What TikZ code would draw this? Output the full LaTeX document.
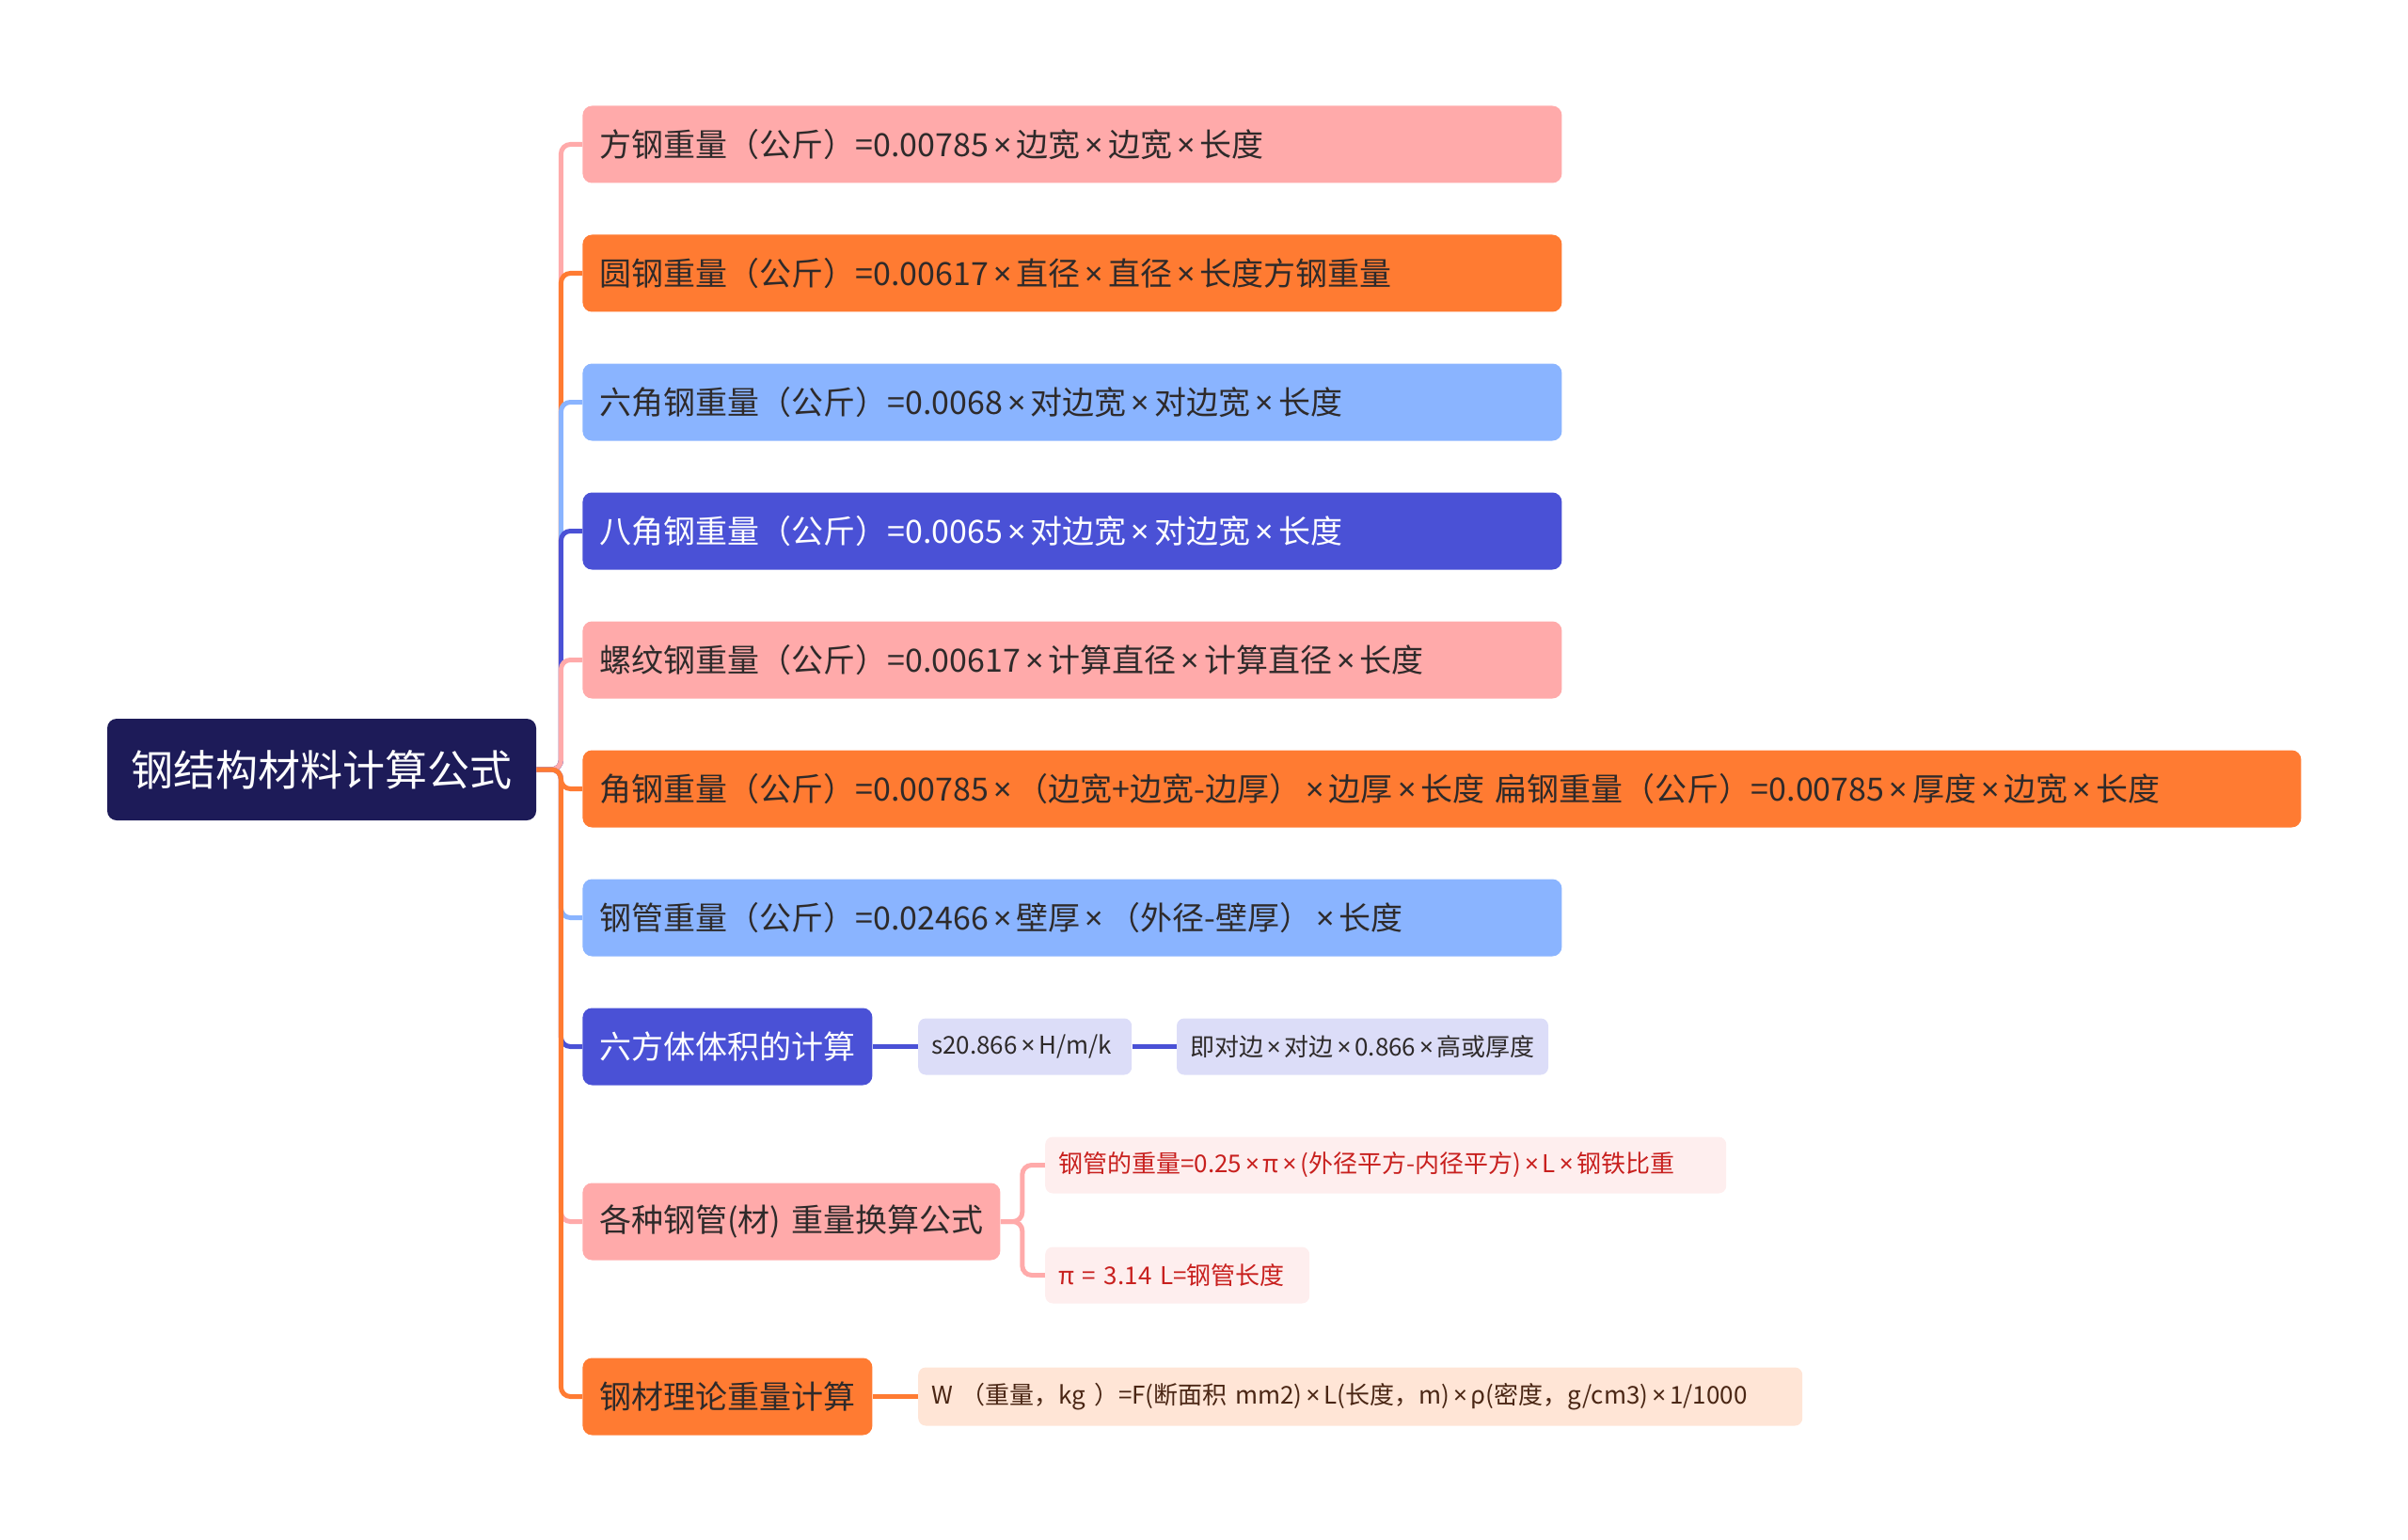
\documentclass[tikz,border=0pt]{standalone}
\usepackage{fontspec}
\setmainfont{Noto Sans CJK SC}
\newfontfamily\latinfont{Noto Sans}
\newcommand{\tms}{\kern0.15em{\latinfont ×}\kern0.15em}
\usetikzlibrary{positioning}

\definecolor{pinkfill}{HTML}{FFAAAA}
\definecolor{orangefill}{HTML}{FF7B32}
\definecolor{bluefill}{HTML}{8AB4FF}
\definecolor{violetfill}{HTML}{4A51D6}
\definecolor{rootfill}{HTML}{1D1B58}
\definecolor{lavfill}{HTML}{DCDDF8}
\definecolor{rosefill}{HTML}{FEEEEE}
\definecolor{peachfill}{HTML}{FFE5D6}
\definecolor{redtext}{HTML}{C8201E}
\definecolor{darktext}{HTML}{2E2A2A}
\definecolor{browntext}{HTML}{4A2614}

\tikzset{
  base/.style={rounded corners=5pt, inner ysep=0pt, align=left},
  lvone/.style={base, anchor=west, inner xsep=9pt, minimum height=41pt, text width=#1,
    font=\fontsize{17pt}{20pt}\selectfont, text=darktext},
  lvtwo/.style={base, rounded corners=4pt, inner xsep=7pt, minimum height=30pt, text width=#1,
    font=\fontsize{13pt}{16pt}\selectfont, text=darktext},
  conn/.style={line width=2.5pt, rounded corners=5pt}
}

\begin{document}
\begin{tikzpicture}[x=1pt,y=-1pt]
        \useasboundingbox (0,0) rectangle (1280,818.5);
        \node[fill=rootfill, rounded corners=5pt, minimum width=228pt, minimum height=54pt, text=white,
          font=\fontsize{22.5pt}{26pt}\selectfont] (root) at (171,409) {钢结构材料计算公式};

        \node[lvone=502.5pt, fill=pinkfill] (n1) at (309.5,76.75) {方钢重量（公斤）=0.00785\tms 边宽\tms 边宽\tms 长度};
        \node[lvone=502.5pt, fill=orangefill] (n2) at (309.5,145.25) {圆钢重量（公斤）=0.00617\tms 直径\tms 直径\tms 长度方钢重量};
        \node[lvone=502.5pt, fill=bluefill] (n3) at (309.5,213.75) {六角钢重量（公斤）=0.0068\tms 对边宽\tms 对边宽\tms 长度};
        \node[lvone=502.5pt, fill=violetfill, text=white] (n4) at (309.5,282.25) {八角钢重量（公斤）=0.0065\tms 对边宽\tms 对边宽\tms 长度};
        \node[lvone=502.5pt, fill=pinkfill] (n5) at (309.5,350.75) {螺纹钢重量（公斤）=0.00617\tms 计算直径\tms 计算直径\tms 长度};
        \node[lvone=895.5pt, fill=orangefill] (n6) at (309.5,419.25) {角钢重量（公斤）=0.00785\tms（边宽+边宽-边厚）\tms 边厚\tms 长度~扁钢重量（公斤）=0.00785\tms 厚度\tms 边宽\tms 长度};
        \node[lvone=502.5pt, fill=bluefill] (n7) at (309.5,487.75) {钢管重量（公斤）=0.02466\tms 壁厚\tms（外径-壁厚）\tms 长度};
        \node[lvone=136pt, fill=violetfill, text=white] (n8) at (309.5,556.25) {六方体体积的计算};
        \node[lvone=204pt, fill=pinkfill] (n9) at (309.5,649.25) {各种钢管(材)~重量换算公式};
        \node[lvone=136pt, fill=orangefill] (n10) at (309.5,742.25) {钢材理论重量计算};

        \node[lvtwo=99.5pt, fill=lavfill] (h1) [right=24pt of n8] {s20.866\tms H/m/k};
        \node[lvtwo=183.5pt, fill=lavfill] (h2) [right=23.5pt of h1] {即对边\tms 对边\tms 0.866\tms 高或厚度};
        \node[lvtwo=348pt, fill=rosefill, text=redtext] (g1) [right=23.5pt of n9, yshift=30pt] {钢管的重量=0.25\tms π\tms(外径平方-内径平方)\tms L\tms 钢铁比重};
        \node[lvtwo=126.5pt, fill=rosefill, text=redtext] (g2) [right=23.5pt of n9, yshift=-28.5pt] {π~=~3.14~L=钢管长度};
        \node[lvtwo=456pt, fill=peachfill, text=browntext, minimum height=31pt] (w1) [right=24pt of n10] {W~（重量，kg~）=F(断面积~mm2)\tms L(长度，m)\tms ρ(密度，g/cm3)\tms 1/1000};

        \draw[conn, pinkfill] (root.east) -- ++(13pt,0) |- (n1.west);
        \draw[conn, orangefill] (root.east) -- ++(13pt,0) |- (n2.west);
        \draw[conn, bluefill] (root.east) -- ++(13pt,0) |- (n3.west);
        \draw[conn, violetfill] (root.east) -- ++(13pt,0) |- (n4.west);
        \draw[conn, pinkfill] (root.east) -- ++(13pt,0) |- (n5.west);
        \draw[conn, orangefill] (root.east) -- ++(13pt,0) |- (n6.west);
        \draw[conn, bluefill] (root.east) -- ++(13pt,0) |- (n7.west);
        \draw[conn, violetfill] (root.east) -- ++(13pt,0) |- (n8.west);
        \draw[conn, pinkfill] (root.east) -- ++(13pt,0) |- (n9.west);
        \draw[conn, orangefill] (root.east) -- ++(13pt,0) |- (n10.west);

        \draw[conn, violetfill] (n8.east) -- (h1.west);
        \draw[conn, violetfill] (h1.east) -- (h2.west);
        \draw[conn, pinkfill] (n9.east) -- ++(11.5pt,0) |- (g1.west);
        \draw[conn, pinkfill] (n9.east) -- ++(11.5pt,0) |- (g2.west);
        \draw[conn, orangefill] (n10.east) -- (w1.west);
\end{tikzpicture}
\end{document}
